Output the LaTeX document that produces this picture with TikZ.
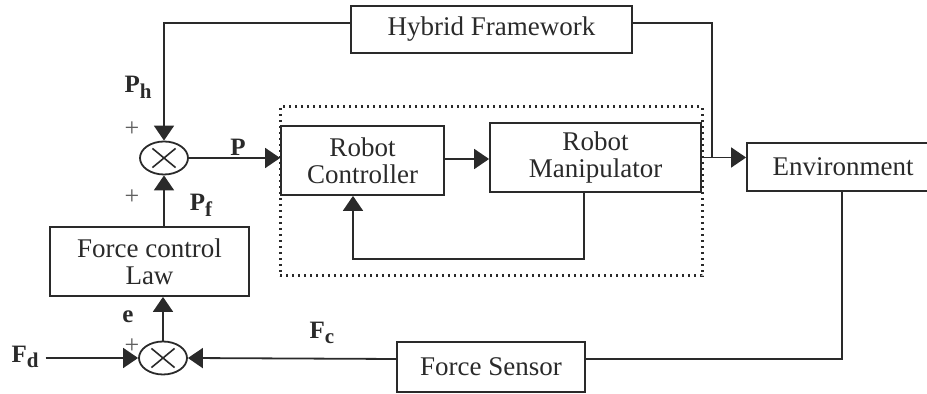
\documentclass[tikz,border=0pt]{standalone}
\usepackage{fontspec}
\setmainfont{Liberation Serif}
\usetikzlibrary{arrows.meta,shapes.geometric}
\newcommand{\bsub}[2]{\textbf{#1}\raisebox{-0.5ex}{\textbf{\fontsize{10.5}{12}\selectfont #2}}}
\definecolor{ink}{HTML}{2A2A2A}
\begin{document}
\begin{tikzpicture}[x=0.5pt,y=-0.5pt,
  every node/.style={text=ink},
  block/.style={draw=ink, line width=0.9pt, align=center, inner sep=0pt,
    font=\fontsize{13.5}{13.5}\selectfont},
  sumj/.style={ellipse, draw=ink, line width=0.9pt, minimum width=24pt,
    minimum height=16.5pt, inner sep=0pt,
    path picture={\draw[ink, line width=0.8pt]
      ([shift={(-5.8pt,-4.8pt)}]path picture bounding box.center) --
      ([shift={(5.8pt,4.8pt)}]path picture bounding box.center)
      ([shift={(-5.8pt,4.8pt)}]path picture bounding box.center) --
      ([shift={(5.8pt,-4.8pt)}]path picture bounding box.center);}},
  wire/.style={draw=ink, line width=0.9pt},
  arr/.style={wire, -{Triangle[length=7.5pt,width=10pt]}},
  sig/.style={font=\fontsize{12.5}{14}\selectfont},
  plus/.style={font=\fontsize{13}{14}\selectfont, text=ink!75}]

\useasboundingbox (0,0) rectangle (927,394);

% blocks
\node[block, minimum width=140.5pt, minimum height=23.5pt] (hyb) at (491.5,29.5) {Hybrid Framework};
\node[block, minimum width=81.5pt, minimum height=34.5pt] (ctrl) at (362.5,160.5) {Robot\\Controller};
\node[block, minimum width=105.5pt, minimum height=34.5pt] (man) at (595.5,157.5) {Robot\\Manipulator};
\node[block, minimum width=96pt, minimum height=24pt] (env) at (843,167) {Environment};
\node[block, minimum width=94pt, minimum height=25pt] (fs) at (491,367) {Force Sensor};
\node[block, minimum width=99.5pt, minimum height=34.5pt] (fcl) at (149.5,261.5) {Force control\\Law};

% robot subsystem boundary
\node[draw=ink, line width=1.5pt, dash pattern=on 1.1pt off 1.9pt,
  minimum width=211pt, minimum height=84.5pt, inner sep=0pt] (plant) at (491,191.5) {};

% summing junctions
\node[sumj] (s1) at (164,158) {};
\node[sumj] (s2) at (163,358) {};

% signal labels
\node[sig] (ph) at (138,87) {\bsub{P}{h}};
\node[sig] (p) at (238,147) {\textbf{P}};
\node[sig] (pf) at (201,205) {\bsub{P}{f}};
\node[sig] (e) at (128,317) {\textbf{e}};
\node[sig] (fd) at (25,357) {\bsub{F}{d}};
\node[sig] (fc) at (322,333) {\bsub{F}{c}};
\node[plus] (pl1) at (132,129) {+};
\node[plus] (pl2) at (132,197) {+};
\node[plus] (pl3) at (132,346) {+};

% connectors
\coordinate (hl) at (164,23);
\coordinate (hr) at (712,23);
\draw[arr] ([yshift=3.25pt]hyb.west) -- (hl) -- (s1.north);
\draw[arr] (s1.east) -- (s1.east -| ctrl.west);
\draw[arr] ([yshift=0.75pt]ctrl.east) -- ([yshift=0.75pt]ctrl.east -| man.west);
\coordinate (fb) at (584,259);
\draw[arr] ([xshift=-5.75pt]man.south) -- (fb) -| ([xshift=-4.75pt]ctrl.south);
\draw[arr] (man.east) -- (man.east -| env.west);
\draw[wire] ([yshift=3.25pt]hyb.east) -- (hr) -- (hr |- man.east);
\coordinate (eb) at (842,359);
\draw[wire] ([xshift=-0.5pt]env.south) -- (eb) -- (eb -| fs.east);
\draw[arr] (fs.west |- eb) -- (s2.east);
\draw[arr] (fd.east |- s2.west) -- (s2.west);
\draw[arr] (s2.north) -- (s2.north |- fcl.south);
\draw[arr] (fcl.north -| s1.south) -- (s1.south);
\end{tikzpicture}
\end{document}
